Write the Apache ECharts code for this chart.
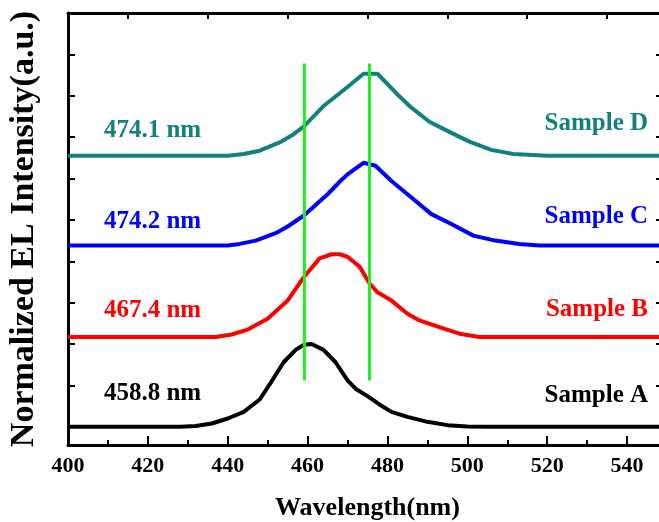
<!DOCTYPE html>
<html><head><meta charset="utf-8">
<script src="https://cdn.jsdelivr.net/npm/echarts@6/dist/echarts.min.js"></script>
<style>html,body{margin:0;padding:0;background:#fff}#c{width:659px;height:522px}</style>
</head><body><div id="c"></div>
<script>
// ---- data ----
const sampleNames = ['Sample A', 'Sample B', 'Sample C', 'Sample D'];
const peakLabels = ['458.8 nm', '467.4 nm', '474.2 nm', '474.1 nm'];
const offsets = [0, 1.085, 2.19, 3.276];

const wlA  = [400, 428, 432, 436, 440, 444, 448, 451, 454, 457, 459, 461, 464, 467, 470, 472, 475, 478, 481, 485, 490, 495, 500, 505, 550];
const intA = [0,   0,   0.01,0.04,0.10,0.18,0.33,0.55,0.78,0.93,0.99,1.0, 0.93,0.78,0.56,0.46,0.37,0.27,0.18,0.12,0.06,0.02,0.005,0, 0];

const wlB  = [400, 437, 441, 445, 450, 455, 459, 463, 466, 468, 470, 473, 475.5, 477.5, 481, 485, 488, 493, 498, 503, 550];
const intB = [0,   0,   0.03,0.09,0.22,0.44,0.72,0.95,1.0, 1.0, 0.97,0.85,0.65, 0.54, 0.44,0.28,0.20,0.12,0.04,0,   0];

const wlC  = [400, 440, 443, 447, 452, 455, 459, 465, 468, 470, 474, 477, 481, 486, 491, 496, 501.5, 507, 513, 518, 550];
const intC = [0,   0,   0.02,0.06,0.15,0.23,0.36,0.62,0.77,0.86,1.0, 0.965,0.78,0.58,0.38,0.26,0.12, 0.06,0.02,0,  0];

const wlD  = [400, 440, 444, 448, 453, 456.5, 459, 464, 470, 474, 477.5, 482.5, 486, 490.5, 495, 500.5, 506, 511.5, 520, 550];
const intD = [0,   0,   0.02,0.06,0.16,0.26, 0.35,0.60,0.83,0.99,0.99, 0.74, 0.58,0.41, 0.30,0.17, 0.07,0.02, 0,   0];

const guideWl = [459.2, 475.5];
const guideSpan = [0.56, 4.39];

const xTickLabels = [400, 420, 440, 460, 480, 500, 520, 540];
const topTicks = [415, 435, 455, 475, 495, 515, 535];
const yTicks = [0, 0.5, 1, 1.5, 2, 2.5, 3, 3.5, 4, 4.5];

// ---- styles / layout ----
const colors = ['#000000', '#ff0000', '#0000ff', '#138080'];
const FONT = '"Liberation Serif","Times New Roman",serif';
const peakLabelX = 409;
const peakLabelY = [0.407, 1.409, 2.48, 3.577];
const sampleLabelX = 545.25;
const sampleLabelY = [0.379, 1.413, 2.535, 3.67];

const allWl = [wlA, wlB, wlC, wlD];
const allInt = [intA, intB, intC, intD];

const series = allWl.map((wl, k) => ({
  type: 'line', name: sampleNames[k], showSymbol: false, symbol: 'none',
  xAxisIndex: 0, yAxisIndex: 0,
  data: wl.map((w, i) => [w, allInt[k][i] + offsets[k]]),
  lineStyle: { color: colors[k], width: 4 }, z: 3
}));
guideWl.forEach(w => series.push({
  type: 'line', showSymbol: false, symbol: 'none', xAxisIndex: 0, yAxisIndex: 0,
  data: [[w, guideSpan[0]], [w, guideSpan[1]]],
  lineStyle: { color: '#22ee22', width: 3 }, z: 5
}));

function lineOpt() { return { show: true, onZero: false, lineStyle: { color: '#000', width: 3 } }; }
function yAx(pos, withName) {
  return {
    type: 'value', position: pos, min: -0.22, max: 5.0,
    axisLine: lineOpt(),
    axisTick: { show: true, inside: true, length: withName ? 7 : 11, customValues: yTicks, lineStyle: { color: '#000', width: 2 } },
    axisLabel: { show: false }, splitLine: { show: false },
    name: withName ? 'Normalized EL Intensity(a.u.)' : '',
    nameLocation: 'middle', nameGap: 27,
    nameTextStyle: { fontFamily: FONT, fontWeight: 'bold', fontSize: 34, color: '#000' }
  };
}
function xBottom() {
  return {
    type: 'value', position: 'bottom', min: 400, max: 550, interval: 20,
    axisLine: lineOpt(),
    axisTick: { show: true, inside: true, length: 9, lineStyle: { color: '#000', width: 2 } },
    minorTick: { show: true, splitNumber: 2, length: 5, lineStyle: { color: '#000', width: 2 } },
    axisLabel: { show: true, customValues: xTickLabels, margin: 10, fontFamily: FONT, fontWeight: 'bold', fontSize: 22, color: '#000' },
    splitLine: { show: false }, minorSplitLine: { show: false },
    name: 'Wavelength(nm)',
    nameLocation: 'middle', nameGap: 50,
    nameTextStyle: { fontFamily: FONT, fontWeight: 'bold', fontSize: 26, color: '#000' }
  };
}
function xTop() {
  return {
    type: 'value', position: 'top', min: 400, max: 550,
    axisLine: lineOpt(),
    axisTick: { show: true, inside: true, length: 6, customValues: topTicks, lineStyle: { color: '#000', width: 2 } },
    axisLabel: { show: false }, splitLine: { show: false }
  };
}

const chart = echarts.init(document.getElementById('c'), null, { renderer: 'canvas' });
chart.setOption({
  animation: false,
  backgroundColor: '#fff',
  grid: { left: 68, right: -8, top: 13, bottom: 77, containLabel: false, outerBoundsMode: 'none' },
  xAxis: [xBottom(), xTop()],
  yAxis: [yAx('left', true), yAx('right', false)],
  series: series
});

const graphics = [];
for (let k = 0; k < 4; k++) {
  const p1 = chart.convertToPixel({ xAxisIndex: 0, yAxisIndex: 0 }, [peakLabelX, peakLabelY[k]]);
  const p2 = chart.convertToPixel({ xAxisIndex: 0, yAxisIndex: 0 }, [sampleLabelX, sampleLabelY[k]]);
  graphics.push({ type: 'text', x: p1[0], y: p1[1], z: 10,
    style: { text: peakLabels[k], fill: colors[k], font: 'bold 25px ' + FONT, textAlign: 'left', textVerticalAlign: 'middle' } });
  graphics.push({ type: 'text', x: p2[0], y: p2[1], z: 10,
    style: { text: sampleNames[k], fill: colors[k], font: 'bold 25px ' + FONT, textAlign: 'right', textVerticalAlign: 'middle' } });
}
chart.setOption({ graphic: graphics });
</script>
</body></html>
